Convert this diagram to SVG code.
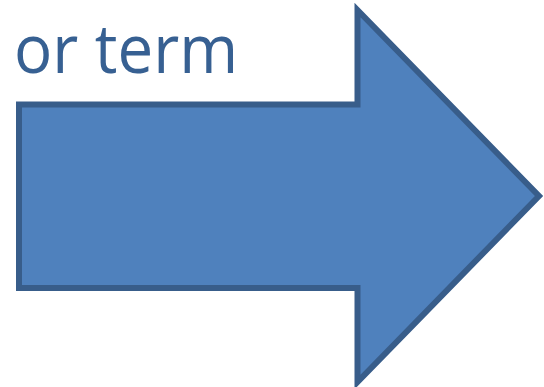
<svg xmlns="http://www.w3.org/2000/svg" width="544" height="387" viewBox="0 0 544 387">
  <style>
    .label { font-family: "Open Sans", "Liberation Sans", sans-serif; font-size: 68px; fill: #376092; }
    .arrow { fill: #4F81BD; stroke: #385D8A; stroke-width: 6; stroke-linejoin: miter; stroke-miterlimit: 10; }
  </style>
  <rect width="544" height="387" fill="#FFFFFF"/>
  <g id="caption">
    <text class="label" x="14" y="73" textLength="224" lengthAdjust="spacingAndGlyphs">or term</text>
  </g>
  <g id="arrow">
    <path class="arrow" d="M19,104.5 H357.5 V10 L539,196 L357.5,382 V288 H19 Z"/>
  </g>
</svg>
